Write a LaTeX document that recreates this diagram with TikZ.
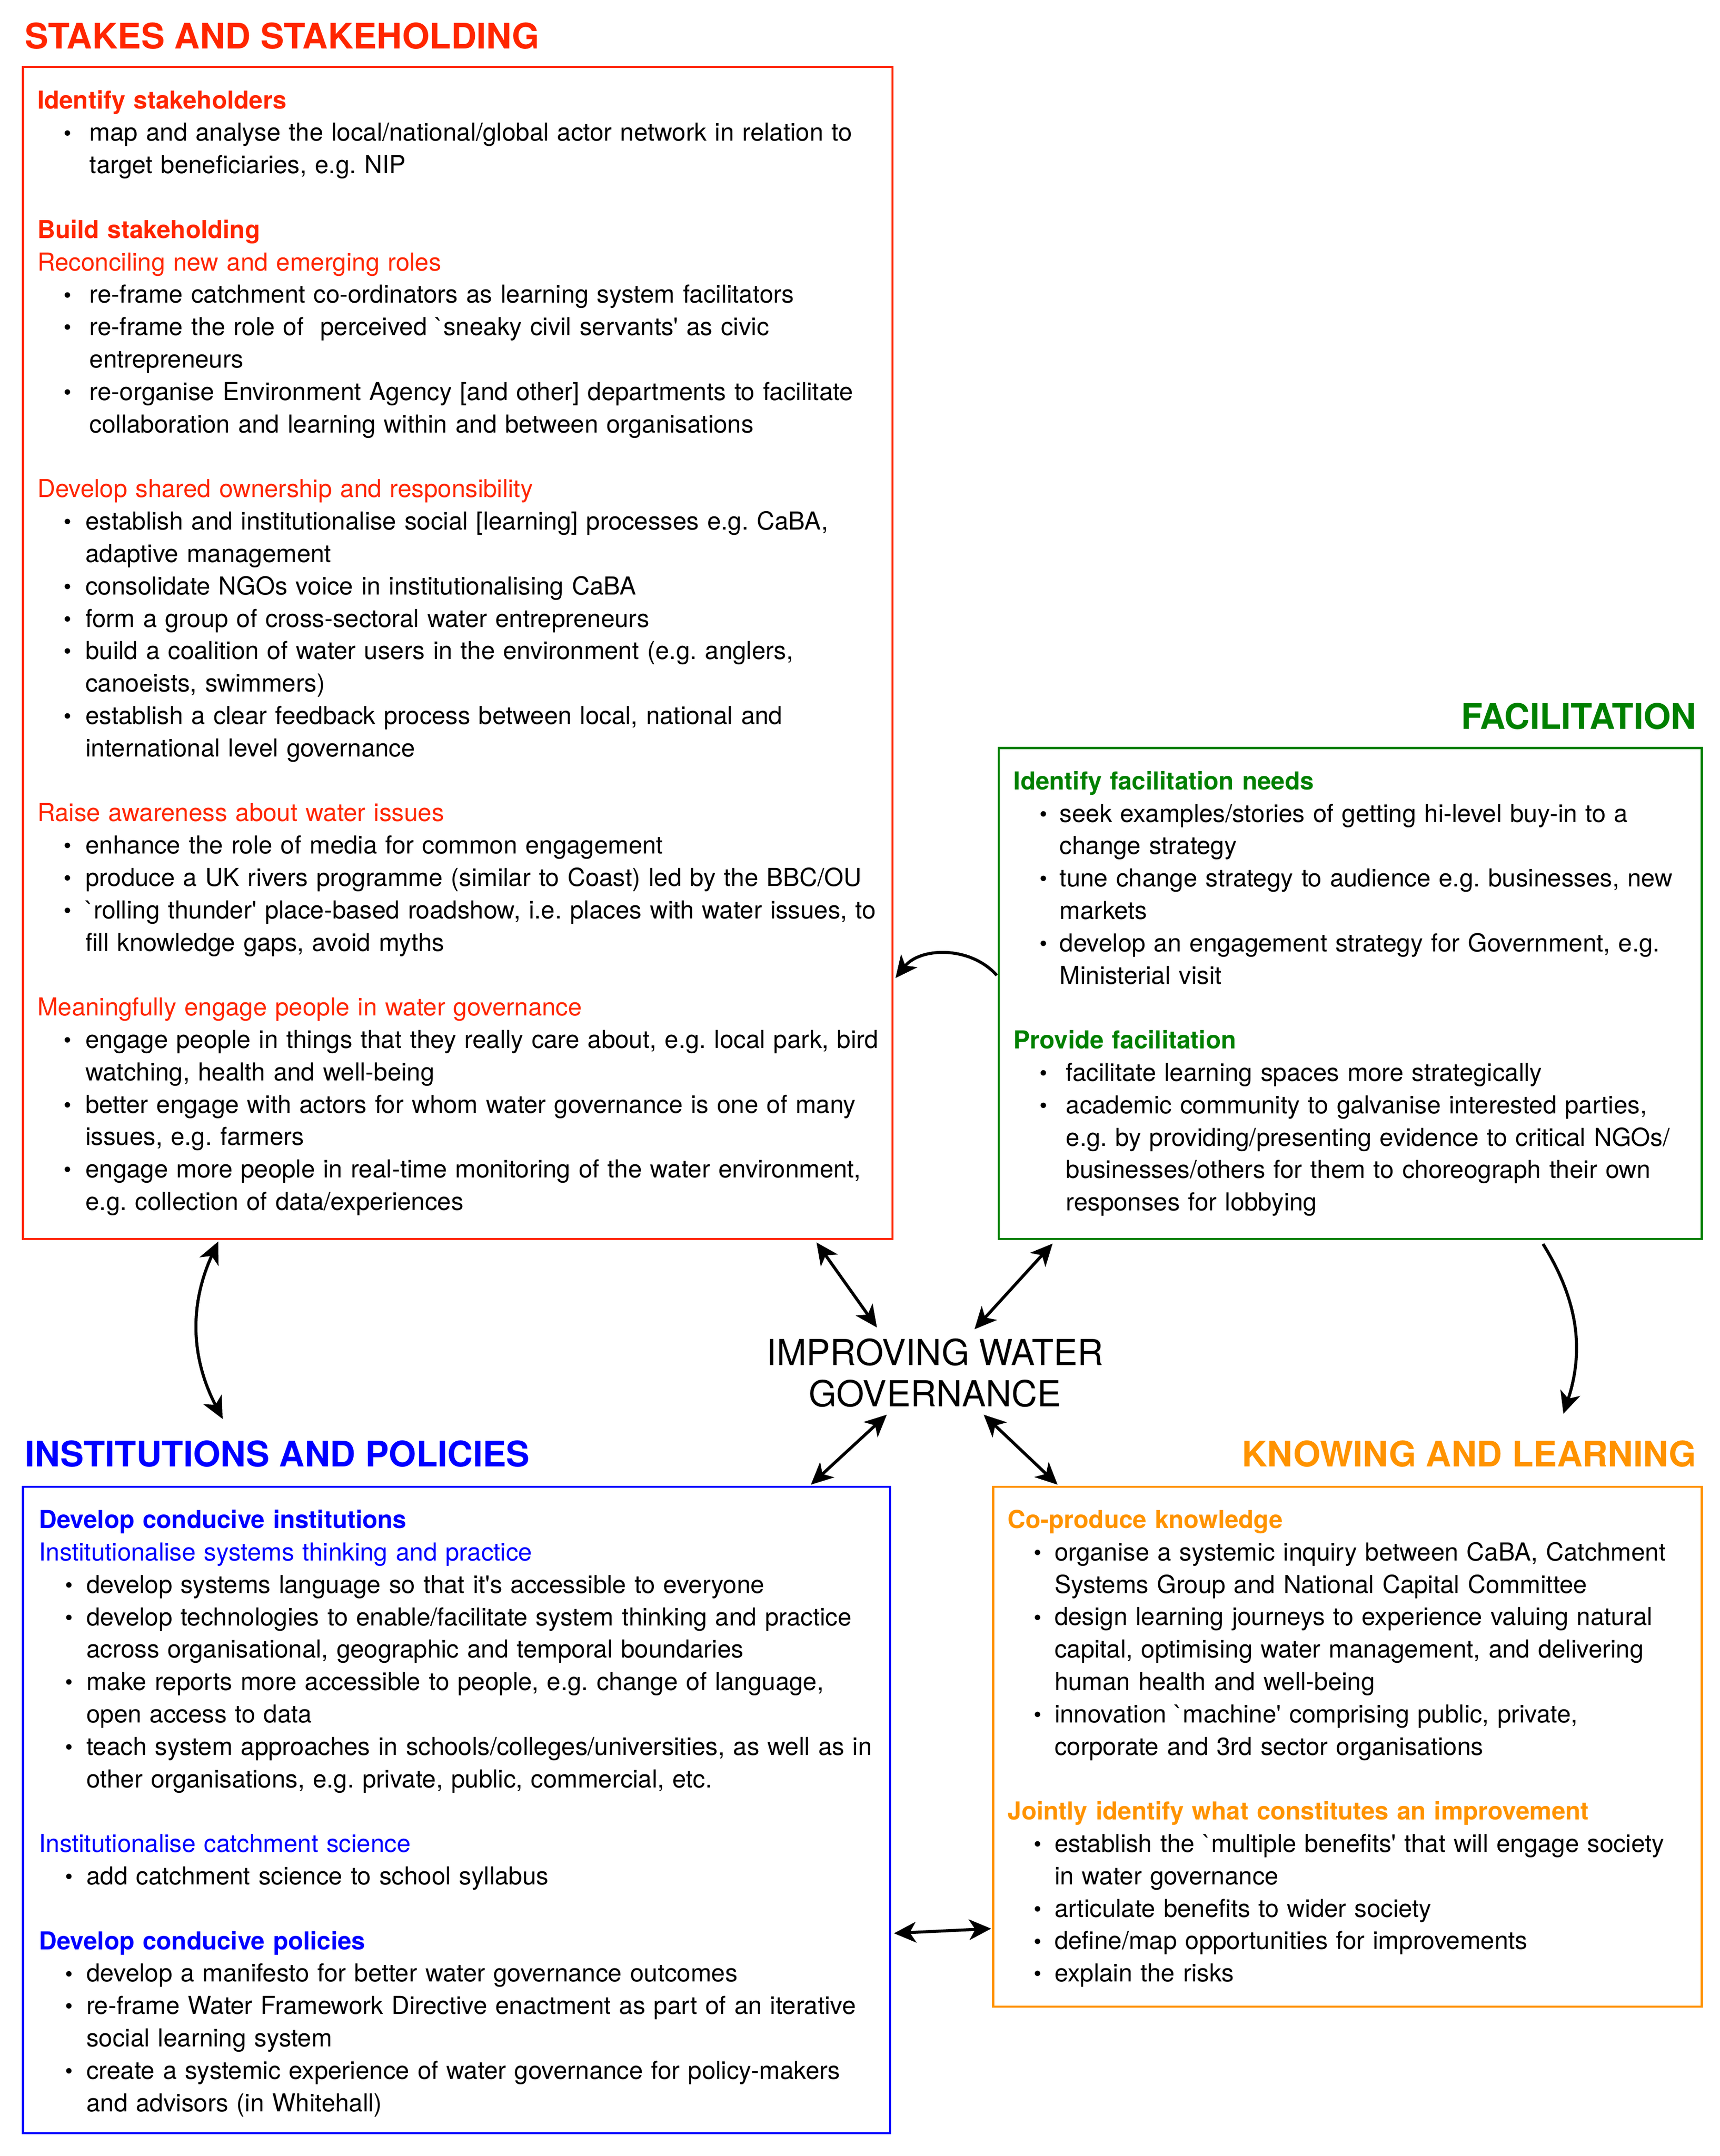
\documentclass[tikz,border=0pt]{standalone}
\usepackage{fontspec}
\setmainfont{TeX Gyre Heros}[Ligatures=TeXOff]
\usetikzlibrary{arrows.meta}
\definecolor{stakered}{RGB}{255,38,0}
\definecolor{facgreen}{RGB}{0,128,0}
\definecolor{instblue}{RGB}{0,0,255}
\definecolor{knoworange}{RGB}{255,147,0}
\setlength{\parindent}{0pt}
\frenchspacing
\newcommand{\hd}[2]{\textcolor{#1}{\bfseries #2}}
\newcommand{\subhd}[2]{\textcolor{#1}{#2}}
\newcommand{\itm}[1][35]{\makebox[#1pt][l]{\hspace{19pt}\raisebox{0.3pt}{\fontsize{16}{16}\selectfont\textbullet}}}
\newcommand{\nxt}[1][35]{\hspace*{#1pt}}
\tikzset{
  panel/.style={draw=#1, line width=1.5pt, anchor=north west, inner sep=0pt},
  title/.style={anchor=base #1, inner sep=0pt, font=\fontsize{25.6}{30}\selectfont\bfseries},
  body/.style={anchor=north west, inner sep=0pt, text width=700pt, align=left, font=\fontsize{18}{23.55}\selectfont},
  twoway/.style={line width=2.2pt, {Stealth[length=16pt,width=15pt,inset=4.5pt]}-{Stealth[length=16pt,width=15pt,inset=4.5pt]}},
  oneway/.style={line width=2.2pt, -{Stealth[length=16pt,width=15pt,inset=4.5pt]}}
}
\begin{document}
\begin{tikzpicture}[x=1pt, y=-1pt]
  \useasboundingbox (0,0) rectangle (1250,1567.3);
  \node[title=west, text=stakered] (stakesT) at (18,35.4) {STAKES AND STAKEHOLDING};
  \node[title=east, text=facgreen] (facilT) at (1233,530) {FACILITATION};
  \node[title=west, text=instblue] (instT) at (18,1066.2) {INSTITUTIONS AND POLICIES};
  \node[title=east, text=knoworange] (knowT) at (1233,1066.2) {KNOWING AND LEARNING};

  \node[panel=stakered, minimum width=632pt, minimum height=852pt] (stakes) at (16,48) {};
  \node[panel=facgreen, minimum width=511pt, minimum height=357pt] (facil) at (725,543) {};
  \node[panel=instblue, minimum width=630pt, minimum height=470pt] (inst) at (16,1080) {};
  \node[panel=knoworange, minimum width=515pt, minimum height=378pt] (know) at (721,1080) {};

  \node[font=\fontsize{26}{30}\selectfont, align=center, inner sep=0pt] (gov) at (679.5,998) {IMPROVING WATER\\GOVERNANCE};

  \node[body] (stakesTxt) at (27,65.4) {
    \hd{stakered}{Identify stakeholders}\\
    \itm[38]map and analyse the local/national/global actor network in relation to\\
    \nxt[38]target beneficiaries, e.g. NIP\\
    \mbox{}\\
    \hd{stakered}{Build stakeholding}\\
    \subhd{stakered}{Reconciling new and emerging roles}\\
    \itm[38]re-frame catchment co-ordinators as learning system facilitators\\
    \itm[38]re-frame the role of\ \ perceived `sneaky civil servants' as civic\\
    \nxt[38]entrepreneurs\\
    \itm[38]re-organise Environment Agency [and other] departments to facilitate\\
    \nxt[38]collaboration and learning within and between organisations\\
    \mbox{}\\
    \subhd{stakered}{Develop shared ownership and responsibility}\\
    \itm establish and institutionalise social [learning] processes e.g. CaBA,\\
    \nxt adaptive management\\
    \itm consolidate NGOs voice in institutionalising CaBA\\
    \itm form a group of cross-sectoral water entrepreneurs\\
    \itm build a coalition of water users in the environment (e.g. anglers,\\
    \nxt canoeists, swimmers)\\
    \itm establish a clear feedback process between local, national and\\
    \nxt international level governance\\
    \mbox{}\\
    \subhd{stakered}{Raise awareness about water issues}\\
    \itm enhance the role of media for common engagement\\
    \itm produce a UK rivers programme (similar to Coast) led by the BBC/OU\\
    \itm `rolling thunder' place-based roadshow, i.e. places with water issues, to\\
    \nxt fill knowledge gaps, avoid myths\\
    \mbox{}\\
    \subhd{stakered}{Meaningfully engage people in water governance}\\
    \itm engage people in things that they really care about, e.g. local park, bird\\
    \nxt watching, health and well-being\\
    \itm better engage with actors for whom water governance is one of many\\
    \nxt issues, e.g. farmers\\
    \itm engage more people in real-time monitoring of the water environment,\\
    \nxt e.g. collection of data/experiences};

  \node[body] (facilTxt) at (736.5,560.4) {
    \hd{facgreen}{Identify facilitation needs}\\
    \itm[33.5]seek examples/stories of getting hi-level buy-in to a\\
    \nxt[33.5]change strategy\\
    \itm[33.5]tune change strategy to audience e.g. businesses, new\\
    \nxt[33.5]markets\\
    \itm[33.5]develop an engagement strategy for Government, e.g.\\
    \nxt[33.5]Ministerial visit\\
    \mbox{}\\
    \hd{facgreen}{Provide facilitation}\\
    \itm[38]facilitate learning spaces more strategically\\
    \itm[38]academic community to galvanise interested parties,\\
    \nxt[38]e.g. by providing/presenting evidence to critical NGOs/\\
    \nxt[38]businesses/others for them to choreograph their own\\
    \nxt[38]responses for lobbying};

  \node[body] (instTxt) at (28.2,1097.4) {
    \hd{instblue}{Develop conducive institutions}\\
    \subhd{instblue}{Institutionalise systems thinking and practice}\\
    \itm[34.5]develop systems language so that it's accessible to everyone\\
    \itm[34.5]develop technologies to enable/facilitate system thinking and practice\\
    \nxt[34.5]across organisational, geographic and temporal boundaries\\
    \itm[34.5]make reports more accessible to people, e.g. change of language,\\
    \nxt[34.5]open access to data\\
    \itm[34.5]teach system approaches in schools/colleges/universities, as well as in\\
    \nxt[34.5]other organisations, e.g. private, public, commercial, etc.\\
    \mbox{}\\
    \subhd{instblue}{Institutionalise catchment science}\\
    \itm[34.5]add catchment science to school syllabus\\
    \mbox{}\\
    \hd{instblue}{Develop conducive policies}\\
    \itm[34.5]develop a manifesto for better water governance outcomes\\
    \itm[34.5]re-frame Water Framework Directive enactment as part of an iterative\\
    \nxt[34.5]social learning system\\
    \itm[34.5]create a systemic experience of water governance for policy-makers\\
    \nxt[34.5]and advisors (in Whitehall)};

  \node[body] (knowTxt) at (732.2,1097.4) {
    \hd{knoworange}{Co-produce knowledge}\\
    \itm[34]organise a systemic inquiry between CaBA, Catchment\\
    \nxt[34]Systems Group and National Capital Committee\\
    \itm[34]design learning journeys to experience valuing natural\\
    \nxt[34]capital, optimising water management, and delivering\\
    \nxt[34]human health and well-being\\
    \itm[34]innovation `machine' comprising public, private,\\
    \nxt[34]corporate and 3rd sector organisations\\
    \mbox{}\\
    \hd{knoworange}{Jointly identify what constitutes an improvement}\\
    \itm[34]establish the `multiple benefits' that will engage society\\
    \nxt[34]in water governance\\
    \itm[34]articulate benefits to wider society\\
    \itm[34]define/map opportunities for improvements\\
    \itm[34]explain the risks};

  \draw[twoway] ([xshift=142.6pt,yshift=-1pt]stakes.south west) to[bend right=26] ([xshift=143.8pt,yshift=34.7pt]instT.base west);
  \draw[twoway] ([xshift=577.4pt,yshift=-1.7pt]stakes.south west) to ([xshift=-42.2pt,yshift=33pt]gov.center);
  \draw[twoway] ([xshift=40pt,yshift=-2.5pt]facil.south west) to ([xshift=28.7pt,yshift=31.7pt]gov.center);
  \draw[twoway] ([xshift=-35pt,yshift=-30.4pt]gov.center) to ([xshift=573.3pt,yshift=0.7pt]inst.north west);
  \draw[twoway] ([xshift=35.4pt,yshift=-30.4pt]gov.center) to ([xshift=47.6pt,yshift=0.7pt]know.north west);
  \draw[oneway] ([xshift=-0.6pt,yshift=-166pt]facil.north west) to[bend right=50] ([xshift=1.3pt,yshift=-663pt]stakes.north east);
  \draw[oneway] ([xshift=396.4pt,yshift=-2.8pt]facil.south west) to[bend left=25] ([xshift=-96.8pt,yshift=38.5pt]knowT.base east);
  \draw[twoway] ([xshift=2.2pt,yshift=-325.4pt]inst.north east) to ([xshift=-0.7pt,yshift=-322pt]know.north west);
\end{tikzpicture}
\end{document}
